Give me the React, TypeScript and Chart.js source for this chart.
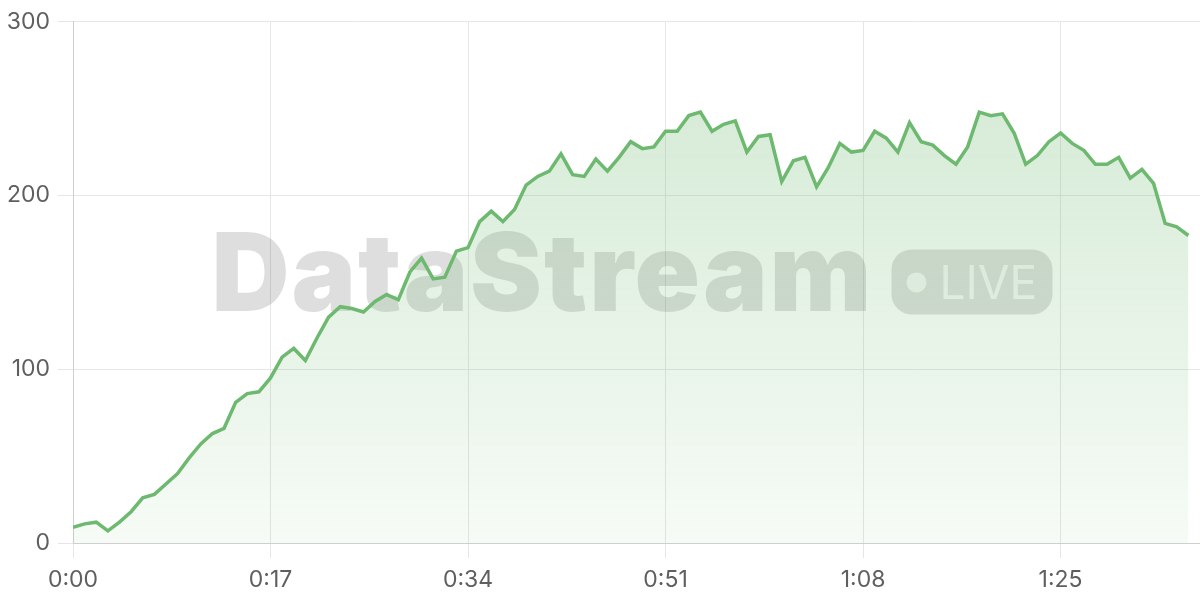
import React, { useEffect, useRef } from "react";
import { Chart, registerables } from "chart.js";

Chart.register(...registerables);

// ---- data ----
const VALUES: number[] = [
  9, 11, 12, 7, 12, 18, 26, 28, 34, 40,
  49, 57, 63, 66, 81, 86, 87, 95, 107, 112,
  105, 118, 130, 136, 135, 133, 139, 143, 140, 156,
  164, 152, 153, 168, 170, 185, 191, 185, 192, 206,
  211, 214, 224, 212, 211, 221, 214, 222, 231, 227,
  228, 237, 237, 246, 248, 237, 241, 243, 225, 234,
  235, 208, 220, 222, 205, 216, 230, 225, 226, 237,
  233, 225, 242, 231, 229, 223, 218, 228, 248, 246,
  247, 236, 218, 223, 231, 236, 230, 226, 218, 218,
  222, 210, 215, 207, 184, 182, 177,
];
const SECONDS: number[] = VALUES.map((_, i) => i);
const X_TICKS: number[] = [0, 17, 34, 51, 68, 85];
const X_MAX = 97;
const Y_TICKS: number[] = [0, 100, 200, 300];
const Y_MAX = 300;
const WATERMARK_TITLE = "DataStream";
const WATERMARK_BADGE = "LIVE";

const FONT = "Inter, 'Noto Sans', sans-serif";
const LINE_RGB = "110,185,112";

const fmtTime = (s: number) =>
  `${Math.floor(s / 60)}:${String(Math.round(s) % 60).padStart(2, "0")}`;

function roundRect(ctx: CanvasRenderingContext2D, x: number, y: number, w: number, h: number, r: number) {
  ctx.beginPath();
  ctx.moveTo(x + r, y);
  ctx.lineTo(x + w - r, y);
  ctx.arcTo(x + w, y, x + w, y + r, r);
  ctx.lineTo(x + w, y + h - r);
  ctx.arcTo(x + w, y + h, x + w - r, y + h, r);
  ctx.lineTo(x + r, y + h);
  ctx.arcTo(x, y + h, x, y + h - r, r);
  ctx.lineTo(x, y + r);
  ctx.arcTo(x, y, x + r, y, r);
  ctx.closePath();
}

const watermarkPlugin = {
  id: "watermark",
  beforeDatasetsDraw(chart: any) {
    const { ctx, chartArea } = chart;
    const cx = (chartArea.left + chartArea.right) / 2;
    const cy = (chartArea.top + chartArea.bottom) / 2;
    ctx.save();
    ctx.fillStyle = "rgba(0,0,0,0.13)";
    ctx.textAlign = "left";
    ctx.textBaseline = "alphabetic";
    ctx.font = `900 108px ${FONT}`;
    (ctx as any).letterSpacing = "2px";
    const titleLeft = cx - 425;
    ctx.fillText(WATERMARK_TITLE, titleLeft, cy + 29);
    (ctx as any).letterSpacing = "0px";

    const pillLeft = cx + 255;
    const pillTop = cy - 33;
    const pillW = 161;
    const pillH = 65;
    roundRect(ctx, pillLeft, pillTop, pillW, pillH, 20);
    ctx.fill();

    ctx.fillStyle = "rgba(255,255,255,0.75)";
    ctx.beginPath();
    ctx.arc(pillLeft + 25, cy, 10, 0, Math.PI * 2);
    ctx.fill();
    ctx.font = `400 46px ${FONT}`;
    ctx.fillText(WATERMARK_BADGE, pillLeft + 48, cy + 17);
    ctx.restore();
  },
};

export default function App() {
  const canvasRef = useRef<HTMLCanvasElement | null>(null);

  useEffect(() => {
    const canvas = canvasRef.current;
    if (!canvas) return;
    const chart = new Chart(canvas, {
      type: "line",
      data: {
        datasets: [
          {
            data: SECONDS.map((s, i) => ({ x: s, y: VALUES[i] })),
            borderColor: `rgb(${LINE_RGB})`,
            borderWidth: 3.5,
            pointRadius: 0,
            tension: 0,
            fill: "origin",
            backgroundColor: (context: any) => {
              const { chart } = context;
              const { ctx, chartArea } = chart;
              if (!chartArea) return `rgba(${LINE_RGB},0.15)`;
              const g = ctx.createLinearGradient(0, chartArea.top, 0, chartArea.bottom);
              g.addColorStop(0, `rgba(${LINE_RGB},0.32)`);
              g.addColorStop(1, `rgba(${LINE_RGB},0.06)`);
              return g;
            },
          },
        ],
      },
      options: {
        responsive: false,
        animation: false,
        layout: { padding: { top: 19, left: 0, right: 0, bottom: 0 } },
        plugins: {
          legend: { display: false },
          tooltip: { enabled: false },
        },
        scales: {
          x: {
            type: "linear",
            min: 0,
            max: X_MAX,
            afterBuildTicks: (scale: any) => {
              scale.ticks = X_TICKS.map((v) => ({ value: v }));
            },
            afterFit: (scale: any) => {
              scale.height = 57;
            },
            ticks: {
              autoSkip: false,
              maxRotation: 0,
              color: "#5f5f5f",
              padding: 8,
              font: { family: FONT, size: 23 },
              callback: (v: any) => fmtTime(Number(v)),
            },
            grid: { color: "#e6e6e6", tickLength: 15, lineWidth: 1 },
            border: { color: "#cfcfcf", width: 1 },
          },
          y: {
            min: 0,
            max: Y_MAX,
            afterBuildTicks: (scale: any) => {
              scale.ticks = Y_TICKS.map((v) => ({ value: v }));
            },
            afterFit: (scale: any) => {
              scale.width = 73;
            },
            ticks: {
              color: "#5f5f5f",
              padding: 8,
              font: { family: FONT, size: 23 },
            },
            grid: { color: "#e6e6e6", tickLength: 15, lineWidth: 1 },
            border: { color: "#cfcfcf", width: 1 },
          },
        },
      },
      plugins: [watermarkPlugin],
    } as any);
    return () => chart.destroy();
  }, []);

  return (
    <div style={{ position: "fixed", left: 0, top: 0, width: 1200, height: 600, background: "#fff" }}>
      <canvas ref={canvasRef} width={1200} height={600} style={{ display: "block" }} />
    </div>
  );
}
